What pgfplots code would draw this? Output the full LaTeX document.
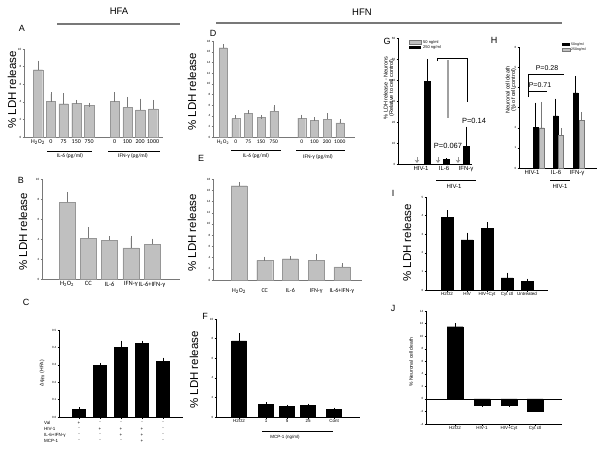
\documentclass[border=0pt]{standalone}
\usepackage{fontspec}
\setmainfont{Liberation Sans}
\newfontfamily\calfont{Carlito}
\usepackage{pgfplots}
\pgfplotsset{compat=1.18}
\usetikzlibrary{arrows.meta}
\definecolor{barg}{RGB}{192,192,192}
\definecolor{bard}{RGB}{150,150,150}
\definecolor{axg}{RGB}{120,120,120}
\newcommand{\fs}[1]{\fontsize{#1}{#1}\selectfont}
\newcommand{\HO}{H\textsubscript{2}O\textsubscript{2}}
\pgfplotsset{
 panel/.style={scale only axis, anchor=south west, clip=false,
   axis x line*=bottom, axis y line*=left,
   /pgf/number format/assume math mode=true,
   yticklabel style={font=\fs{3}, inner sep=1pt},
   xticklabel style={font=\fs{6}\calfont, inner sep=1pt},
   tick align=outside, major tick length=1.5pt,
   axis line style={-, line width=0.4pt},
   tick style={line width=0.3pt},
   ymin=0},
 graypanel/.style={panel, axis line style={axg}, ytick style={axg}, xtick style={draw=none}},
 blackpanel/.style={panel, axis line style={black}, tick style={black},
   xticklabel style={font=\fs{4.5}}},
 gbar/.style={ybar, bar shift=0pt, fill=barg, draw=bard, line width=0.3pt,
   error bars/y dir=plus, error bars/y explicit,
   error bars/error bar style={axg, line width=0.5pt},
   error bars/error mark options={axg, mark size=2pt, line width=0.5pt}},
 kbar/.style={ybar, bar shift=0pt, fill=black, draw=black,
   error bars/y dir=plus, error bars/y explicit,
   error bars/error bar style={black, line width=0.4pt},
   error bars/error mark options={black, mark size=1.5pt, line width=0.4pt}},
 hbar/.style={ybar, bar shift=0pt, fill=barg, draw=axg, line width=0.3pt,
   error bars/y dir=plus, error bars/y explicit,
   error bars/error bar style={axg, line width=0.4pt},
   error bars/error mark options={axg, mark size=1.5pt, line width=0.4pt}},
}
\begin{document}
\begin{tikzpicture}
\path[use as bounding box] (0pt,0pt) rectangle (600pt,-451pt);

% ---------- A ----------
\begin{axis}[graypanel, at={(24pt,-137pt)}, width=139pt, height=88pt,
  xmin=24, xmax=163, ymax=10, ytick={0,2,...,10},
  xtick={38,50.8,63.6,76.3,89.1,114.7,127.4,140.2,153},
  xticklabels={\HO,0,75,150,750,0,100,200,1000}]
\addplot[bar width=9.3pt, gbar] coordinates {
 (38,7.65) +- (0,0.8) (50.8,4.03) +- (0,0.85) (63.6,3.78) +- (0,0.95)
 (76.3,3.86) +- (0,0.12) (89.1,3.62) +- (0,0.05)
 (114.7,4.03) +- (0,0.85) (127.4,3.36) +- (0,0.97) (140.2,3.08) +- (0,1.05) (153,3.2) +- (0,0.78)};
\end{axis}

% ---------- B ----------
\begin{axis}[graypanel, at={(42pt,-279pt)}, width=138pt, height=100pt,
  xmin=42, xmax=180, ymax=10, ytick={0,2,...,10},
  xticklabel style={font=\fs{6.5}\calfont},
  xtick={67,88.3,109.5,130.8,152},
  xticklabels={\HO,CC,IL-6,IFN-γ,IL-6+IFN-γ}]
\addplot[bar width=16pt, gbar] coordinates {
 (67,7.66) +- (0,0.85) (88.3,4.08) +- (0,0.9) (109.5,3.88) +- (0,0.2)
 (130.8,3.12) +- (0,1.0) (152,3.47) +- (0,0.38)};
\end{axis}

% ---------- C ----------
\begin{axis}[blackpanel, at={(59pt,-417pt)}, width=124pt, height=87pt,
  xmin=59, xmax=183, ymax=0.5, ytick={0,0.1,...,0.5},
  yticklabel style={/pgf/number format/.cd, fixed, fixed zerofill, precision=1},
  xtick={79,100,121,142,163}, xticklabels={}]
\addplot[bar width=13pt, kbar] coordinates {
 (79,0.046) +- (0,0.002) (100,0.296) +- (0,0.007) (121,0.399) +- (0,0.032)
 (142,0.424) +- (0,0.006) (163,0.319) +- (0,0.013)};
\end{axis}

% ---------- D ----------
\begin{axis}[graypanel, at={(213pt,-137pt)}, width=142pt, height=96pt,
  xmin=213, xmax=355, ymax=18, ytick={0,2,...,18},
  xticklabel style={font=\fs{5.5}\calfont},
  xtick={223,235.7,248.4,261.1,273.8,301.7,314.4,327.1,339.8},
  xticklabels={\HO,0,75,150,750,0,100,200,1000}]
\addplot[bar width=8pt, gbar] coordinates {
 (223,16.75) +- (0,0.35) (235.7,3.45) +- (0,0.3) (248.4,4.45) +- (0,0.2)
 (261.1,3.65) +- (0,0.12) (273.8,4.8) +- (0,0.8)
 (301.7,3.56) +- (0,0.25) (314.4,3.15) +- (0,0.2) (327.1,3.35) +- (0,0.75) (339.8,2.65) +- (0,0.3)};
\end{axis}

% ---------- E ----------
\begin{axis}[graypanel, at={(213pt,-280pt)}, width=149pt, height=101pt,
  xmin=213, xmax=362, ymax=18, ytick={0,2,...,18},
  xticklabel style={font=\fs{6}\calfont, yshift=-6pt},
  xtick={239,264.7,290.4,316.1,341.8},
  xticklabels={\HO,CC,IL-6,IFN-γ,IL-6+IFN-γ}]
\addplot[bar width=16pt, gbar] coordinates {
 (239,16.8) +- (0,0.3) (264.7,3.5) +- (0,0.3) (290.4,3.8) +- (0,0.06)
 (316.1,3.5) +- (0,0.7) (341.8,2.35) +- (0,0.3)};
\end{axis}

% ---------- F ----------
\begin{axis}[blackpanel, at={(216pt,-417pt)}, width=144pt, height=98pt,
  xmin=216, xmax=360, ymax=10, ytick={0,2,...,10},
  xtick={239,266,287,308,334}, xticklabels={H2O2,1,5,25,Cont}]
\addplot[bar width=15pt, kbar] coordinates {
 (239,7.78) +- (0,0.6) (266,1.32) +- (0,0.05) (287,1.06) +- (0,0.04)
 (308,1.16) +- (0,0.04) (334,0.78) +- (0,0.03)};
\end{axis}

% ---------- G ----------
\begin{axis}[blackpanel, at={(398pt,-164pt)}, width=74pt, height=126pt,
  xmin=398, xmax=472, ymax=60, ytick={0,10,...,60},
  xtick={421,444,466}, xticklabels={HIV-1,IL-6,IFN-γ},
  xticklabel style={font=\fs{6}}, xtick style={draw=none}]
\addplot[bar width=6pt, kbar] coordinates {
 (427,39.4) +- (0,10) (446.5,2.1) +- (0,0) (466,8.25) +- (0,8.85)};
\addplot[axg!80, line width=0.8pt, quiver={u=0, v=-2.8}, -{Stealth[length=3pt, width=4.5pt, inset=0.8pt]}]
 coordinates {(417,3.3) (438,3.3) (458,3.3)};
\end{axis}

% ---------- H ----------
\begin{axis}[blackpanel, at={(519pt,-168pt)}, width=78pt, height=121pt,
  xmin=519, xmax=597, ymax=6, ytick={0,1,...,6},
  xtick={532,556,577}, xticklabels={HIV-1,IL-6,IFN-γ},
  xticklabel style={font=\fs{6}}, xtick style={draw=none}]
\addplot[bar width=5pt, kbar] coordinates {
 (535.5,2.0) +- (0,1.17) (555.5,2.58) +- (0,0.79) (575.5,3.73) +- (0,0.76)};
\addplot[bar width=5pt, hbar] coordinates {
 (541.5,2.0) +- (0,1.2) (561,1.63) +- (0,0.27) (581.5,2.35) +- (0,0.33)};
\end{axis}

% ---------- I ----------
\begin{axis}[blackpanel, at={(426pt,-290pt)}, width=122pt, height=93pt,
  xmin=426, xmax=548, ymax=5, ytick={0,1,...,5},
  xtick={447,467,487,507,527}, xticklabels={H2O2,HIV,HIV+Cyt,Cyt ctl,Untreated}]
\addplot[bar width=12pt, kbar] coordinates {
 (447,3.9) +- (0,0.32) (467,2.7) +- (0,0.3) (487,3.32) +- (0,0.25)
 (507,0.65) +- (0,0.2) (527,0.48) +- (0,0.05)};
\end{axis}

% ---------- J ----------
\begin{axis}[blackpanel, at={(426pt,-424pt)}, width=136pt, height=113pt,
  xmin=426, xmax=562, ymin=-4, ymax=14, ytick={-4,-2,...,14},
  xtick={455,482,509,535}, xticklabels={H2O2,HIV-1,HIV+Cyt,Cyt ctl}]
\draw[black, line width=0.4pt] (axis cs:426,0) -- (axis cs:562,0);
\addplot[bar width=16pt, kbar] coordinates {
 (455,11.5) +- (0,0.35) (482,-1.03) +- (0,0) (509,-1.03) +- (0,0) (535,-1.9) +- (0,0)};
\end{axis}

% ---------- annotations ----------
\begin{scope}[x=1pt, y=-1pt]
\node[font=\fs{9.5}] at (119,11) {HFA};
\node[font=\fs{9.5}] at (362,12) {HFN};
\draw[axg, line width=1.2pt] (57,24) -- (180,24);
\draw[axg, line width=1.2pt] (216,23) -- (562,23);

\foreach \t/\x/\y in {A/22/28, B/21/180, C/26/302, D/213/33, E/201/158, F/205/316, G/387/41, H/494/40, I/393/193, J/393/308}
  \node[font=\fs{9}] at (\x,\y) {\t};

\foreach \x/\y in {12/90, 23/232, 192/92, 192/233, 194/370, 407/243}
  \node[font=\fs{11.5}, rotate=90] at (\x,\y) {\% LDH release};

% A groups
\draw[line width=0.7pt] (47,151) -- (92,151);
\draw[line width=0.7pt] (108,151) -- (160,151);
\node[font=\fs{5.5}\calfont] at (70,156) {IL-6 (pg/ml)};
\node[font=\fs{5.5}\calfont] at (133,156) {IFN-γ (pg/ml)};
% D groups
\draw[line width=0.7pt] (231,150) -- (281,150);
\draw[line width=0.7pt] (296,150) -- (345,150);
\node[font=\fs{5.5}\calfont] at (256,156) {IL-6 (pg/ml)};
\node[font=\fs{5.5}\calfont] at (318,157) {IFN-γ (pg/ml)};

% C
\node[font=\fs{5}, rotate=90] at (42,373) {Δψ\textsubscript{m} (HFA)};
\foreach \lab/\y in {Val/423, HIV-1/429, IL-6+IFN-γ/435, MCP-1/441}
  \node[font=\fs{4.5}, anchor=west, inner sep=0pt] at (44,\y) {\lab};
\foreach \s [count=\i] in {+,-,-,-,-} \node[font=\fs{4.5}, inner sep=0pt] at ({58+21*\i},423) {\s};
\foreach \s [count=\i] in {-,+,+,+,-} \node[font=\fs{4.5}, inner sep=0pt] at ({58+21*\i},429) {\s};
\foreach \s [count=\i] in {-,-,+,+,-} \node[font=\fs{4.5}, inner sep=0pt] at ({58+21*\i},435) {\s};
\foreach \s [count=\i] in {-,-,-,+,-} \node[font=\fs{4.5}, inner sep=0pt] at ({58+21*\i},441) {\s};

% F
\draw[line width=0.8pt] (262,431) -- (333,431);
\node[font=\fs{4.5}] at (285,437) {MCP-1 (ng/ml)};

% G
\node[font=\fs{5.5}, rotate=90, align=center] at (389,88) {\% LDH release - Neurons\\(Relative to cell control)};
\filldraw[fill=barg, draw=axg, line width=0.3pt] (409,40) rectangle (421,44);
\fill[black] (409,45.5) rectangle (421,49);
\node[font=\fs{4}, anchor=west, inner sep=0pt] at (423,42) {50 ng/ml};
\node[font=\fs{4}, anchor=west, inner sep=0pt] at (423,47.5) {250 ng/ml};
\draw[line width=0.6pt] (437,61) -- (437,58) -- (467,58) -- (467,102);
\draw[axg!70, line width=1.4pt] (448,60) -- (448,118);
\node[font=\fs{7.5}] at (448,146) {P=0.067};
\node[font=\fs{7.5}] at (474,121) {P=0.14};
\draw[line width=0.6pt] (436,180) -- (476,180);
\node[font=\fs{6}] at (454,186) {HIV-1};

% H
\node[font=\fs{5.5}, rotate=90, align=center] at (511,90) {Neuronal cell death\\(\% of cell control)};
\fill[black] (562,43) rectangle (570,46);
\filldraw[fill=barg, draw=axg, line width=0.3pt] (562,48) rectangle (570,51);
\node[font=\fs{3.5}, anchor=west, inner sep=0pt] at (571,44.5) {50ng/ml};
\node[font=\fs{3.5}, anchor=west, inner sep=0pt] at (571,49.5) {250ng/ml};
\draw[line width=0.6pt] (528,97) -- (528,74) -- (564,74);
\draw[line width=0.6pt] (528,91) -- (547,91);
\node[font=\fs{7}] at (547,68) {P=0.28};
\node[font=\fs{7}] at (540,85.5) {P=0.71};
\draw[line width=0.6pt] (550,180) -- (570,180);
\node[font=\fs{6}] at (560,186) {HIV-1};

% J
\node[font=\fs{5}, rotate=90] at (411,362) {\% Neuronal cell death};
\end{scope}
\end{tikzpicture}
\end{document}
